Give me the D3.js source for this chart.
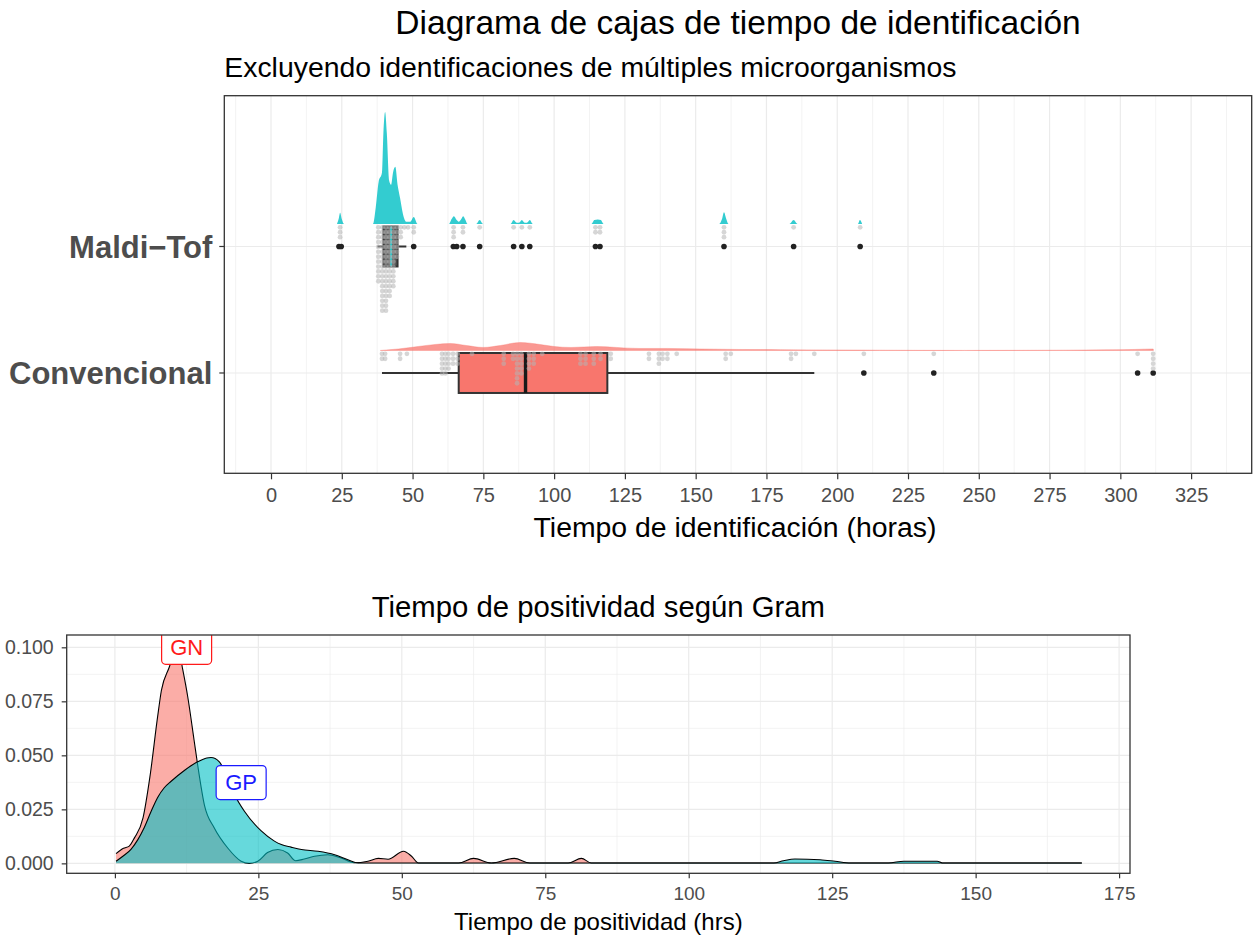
<!DOCTYPE html>
<html>
<head>
<meta charset="utf-8">
<script src="https://cdnjs.cloudflare.com/ajax/libs/d3/7.8.5/d3.min.js"></script>
<style>
  body { margin: 0; background: #fff; }
  svg { display: block; font-family: 'Liberation Sans', Arial, sans-serif; }
</style>
</head>
<body>
<svg id="chart" width="1255" height="938"></svg>
<script>
// ---- top chart data (hours) ----
var categories = ['Convencional', 'Maldi\u2212Tof'];
var xTicksTop = [0, 25, 50, 75, 100, 125, 150, 175, 200, 225, 250, 275, 300, 325];

// box stats: [whiskerLow, q1, median, q3, whiskerHigh]
var maldiBox = [37.6, 39.7, 42.4, 44.7, 47.8];
var convBox = [39.2, 66.3, 89.9, 118.8, 191.9];

var maldiOutliers = [24.0, 24.8, 50.4, 64.4, 65.6, 67.8, 73.7, 85.7, 88.6, 91.4, 114.6, 116.2, 160.0, 184.6, 208.1];
var convOutliers = [209.4, 234.1, 306.1, 311.6];

// dot columns: value, count
var maldiDots = [[24.4, 3], [37.9, 12], [39.3, 18], [40.6, 18], [41.9, 15], [43.2, 13], [44.5, 7],
  [45.8, 3], [47.1, 1], [48.4, 1], [50.4, 2], [64.5, 3], [67.8, 2], [73.7, 1], [85.7, 1], [88.6, 1],
  [91.4, 1], [114.6, 2], [116.2, 2], [160.0, 3], [184.6, 1], [208.1, 1]];
var convDots = [[39.2, 2], [40.3, 2], [45.6, 2], [48.0, 1], [60.4, 5], [61.6, 5], [62.7, 4], [64.3, 3],
  [65.9, 3], [71.0, 1], [82.2, 3], [85.5, 2], [86.9, 7], [88.4, 5], [91.1, 4], [92.8, 3], [95.8, 1],
  [109.3, 3], [111.1, 3], [114.0, 3], [116.4, 2], [120.0, 2], [133.5, 2], [137.0, 3], [138.3, 2],
  [140.0, 2], [143.3, 1], [160.6, 2], [162.4, 1], [183.7, 2], [185.4, 1], [191.9, 1], [209.4, 1],
  [234.1, 1], [306.1, 1], [311.6, 4]];

// half-eye density: value, density
var maldiDens = [[23.3, 0], [24.0, 0.011], [24.4, 0.020], [25.0, 0.009], [25.8, 0],
  [36.0, 0], [37.0, 0.03], [38.0, 0.075], [39.2, 0.092], [39.7, 0.163], [40.3, 0.200], [40.9, 0.163],
  [41.7, 0.078], [42.4, 0.07], [43.1, 0.092], [43.9, 0.102], [44.7, 0.07], [45.6, 0.046],
  [46.6, 0.018], [47.8, 0.004], [49.2, 0.004], [50.4, 0.0125], [51.8, 0],
  [62.8, 0], [63.8, 0.009], [64.6, 0.014], [65.6, 0.007], [66.3, 0.004], [67.2, 0.009], [67.9, 0.014],
  [68.7, 0.007], [69.4, 0], [72.5, 0], [73.7, 0.007], [74.9, 0],
  [84.6, 0], [85.7, 0.007], [86.8, 0.002], [87.6, 0.002], [88.6, 0.007], [89.6, 0.002], [90.4, 0.002],
  [91.4, 0.007], [92.5, 0], [113.2, 0], [114.2, 0.007], [115.4, 0.008], [116.5, 0.007], [117.5, 0],
  [158.3, 0], [159.3, 0.009], [160.0, 0.021], [160.8, 0.009], [161.6, 0],
  [183.1, 0], [184.6, 0.007], [186.0, 0], [207.3, 0], [208.0, 0.007], [208.8, 0]];
var convDens = [[38.6, 0], [45, 0.0027], [52, 0.0071], [58, 0.0107], [63.3, 0.0125], [69, 0.0089],
  [75, 0.0054], [81, 0.0089], [88, 0.0143], [95, 0.0107], [100, 0.0071], [106, 0.0054], [115, 0.0071],
  [122, 0.0054], [130, 0.0036], [140, 0.0036], [152, 0.0027], [165, 0.0018], [180, 0.0014],
  [200, 0.0009], [215, 0.0005], [230, 0.0002], [245, 0.0001], [260, 0.0002], [280, 0.0005],
  [295, 0.0011], [305, 0.0018], [311.6, 0.0027], [311.7, 0]];

// ---- bottom chart data ----
var xTicksBot = [0, 25, 50, 75, 100, 125, 150, 175];
var yTicksBot = [0, 0.025, 0.05, 0.075, 0.1];
var gnDens = [[0.2, 0.0045], [1.5, 0.007], [2.5, 0.008], [3.4, 0.0118], [4.9, 0.021], [6.1, 0.040],
  [7.45, 0.068], [8.1, 0.080], [9.5, 0.091], [10.5, 0.099], [11.0, 0.1003], [11.8, 0.090], [12.7, 0.077],
  [13.8, 0.057], [14.4, 0.046], [15.6, 0.027], [17.3, 0.0165], [19.7, 0.007], [22.0, 0.001],
  [23.4, 0.0], [24.9, 0.001], [26.6, 0.005], [28.4, 0.0064], [30.1, 0.0048], [31.5, 0.0012],
  [33.0, 0.002], [34.8, 0.0033], [37.1, 0.004], [39.4, 0.0025], [41.7, 0.0003], [44.1, 0.001],
  [45.9, 0.0023], [47.6, 0.0019], [50.3, 0.0056], [51.7, 0.0033], [52.9, 0.0002], [59.9, 0.0002],
  [62.5, 0.0023], [65.6, 0.0002], [69.6, 0.0023], [72.3, 0.0002], [79.0, 0.0002], [81.3, 0.0023],
  [83.0, 0.0002], [168.5, 0.0002]];
var gpDens = [[0.2, 0.001], [1.5, 0.0035], [2.8, 0.0065], [4.0, 0.011], [5.1, 0.0165], [6.3, 0.024],
  [7.45, 0.0305], [8.6, 0.035], [9.8, 0.038], [12.1, 0.043], [14.4, 0.047], [16.0, 0.0488],
  [16.75, 0.049], [18.2, 0.047], [19.5, 0.040], [20.8, 0.032], [22.6, 0.024], [25.5, 0.015],
  [27.8, 0.0103], [29.0, 0.0087], [30.7, 0.0075], [32.5, 0.0064], [35.4, 0.0056], [38.3, 0.004],
  [40.6, 0.0017], [42.4, 0.0002], [114.8, 0.0002], [116.5, 0.0012], [118.5, 0.002], [122.9, 0.0017],
  [125.5, 0.001], [128.2, 0.0002], [134.8, 0.0002], [137.5, 0.001], [143.3, 0.001], [144.2, 0.0002],
  [168.5, 0.0002]];
var gramLabels = [{ name: 'GN', t: 12.5, d: 0.1, color: '#ff1a1a' }, { name: 'GP', t: 22.0, d: 0.0374, color: '#1a1aff' }];

var svg = d3.select('#chart');
var GRID = '#ebebeb';
var TEXT_GREY = '#4d4d4d';

function drawTopPanel() {
  var left = 224.3, right = 1251.7, top = 95.7, bottom = 473.3;
  var x = d3.scaleLinear().domain([-16.5, 346.4]).range([left, right]);
  var y = d3.scaleLinear().domain([0.207, 3.192]).range([bottom, top]);
  var slabH = d3.scaleLinear().domain([0, 0.2]).range([0, 112]);
  var slabOffset = 0.178, boxHalf = 0.158;
  var dotR = 2.4, dotPitch = 4.9;

  svg.append('clipPath').attr('id', 'clipTop').append('rect')
    .attr('x', left).attr('y', top).attr('width', right - left).attr('height', bottom - top);

  var g = svg.append('g');
  var panel = g.append('g').attr('clip-path', 'url(#clipTop)');

  var minor = d3.range(-12.5, 346, 25);
  panel.selectAll('line.minor').data(minor).enter().append('line')
    .attr('x1', x).attr('x2', x).attr('y1', top).attr('y2', bottom)
    .attr('stroke', GRID).attr('stroke-width', 0.6);
  panel.selectAll('line.major').data(xTicksTop).enter().append('line')
    .attr('x1', x).attr('x2', x).attr('y1', top).attr('y2', bottom)
    .attr('stroke', GRID).attr('stroke-width', 1.2);
  panel.selectAll('line.hmajor').data(categories).enter().append('line')
    .attr('x1', left).attr('x2', right)
    .attr('y1', function(d, i) { return y(i + 1); }).attr('y2', function(d, i) { return y(i + 1); })
    .attr('stroke', GRID).attr('stroke-width', 1.2);

  var groups = [
    { idx: 2, dens: maldiDens, box: maldiBox, out: maldiOutliers, dots: maldiDots,
      slab: '#00BFC4', edge: 0, boxFill: '#5a5a5a', median: '#1fc6c9' },
    { idx: 1, dens: convDens, box: convBox, out: convOutliers, dots: convDots,
      slab: '#F8766D', edge: 0.45, boxFill: '#F8766D', median: '#1a1a1a' }
  ];

  groups.forEach(function(grp) {
    var base = y(grp.idx + slabOffset);
    var area = d3.area()
      .x(function(d) { return x(d[0]); })
      .y0(base)
      .y1(function(d) { return base - slabH(d[1]); })
      .curve(d3.curveMonotoneX);
    panel.append('path').datum(grp.dens)
      .attr('d', area)
      .attr('fill', grp.slab).attr('fill-opacity', grp.idx === 2 ? 0.8 : 0.75)
      .attr('stroke', grp.slab).attr('stroke-opacity', grp.edge).attr('stroke-width', 0.8);

    var cy = y(grp.idx);
    var b = grp.box;
    var boxTop = y(grp.idx + boxHalf), boxBot = y(grp.idx - boxHalf);
    panel.append('line').attr('x1', x(b[0])).attr('x2', x(b[1])).attr('y1', cy).attr('y2', cy)
      .attr('stroke', '#333').attr('stroke-width', 2);
    panel.append('line').attr('x1', x(b[3])).attr('x2', x(b[4])).attr('y1', cy).attr('y2', cy)
      .attr('stroke', '#333').attr('stroke-width', 2);
    panel.append('rect')
      .attr('x', x(b[1])).attr('width', x(b[3]) - x(b[1]))
      .attr('y', boxTop).attr('height', boxBot - boxTop)
      .attr('fill', grp.boxFill).attr('stroke', '#333').attr('stroke-width', 2);
    panel.append('line').attr('x1', x(b[2])).attr('x2', x(b[2]))
      .attr('y1', boxTop).attr('y2', boxBot)
      .attr('stroke', grp.median).attr('stroke-width', grp.idx === 2 ? 2 : 3.4);

    panel.selectAll(null).data(grp.out).enter().append('circle')
      .attr('cx', x).attr('cy', cy).attr('r', 2.8).attr('fill', '#222');

    var flat = [];
    grp.dots.forEach(function(col) {
      d3.range(col[1]).forEach(function(k) { flat.push([col[0], k]); });
    });
    panel.selectAll(null).data(flat).enter().append('circle')
      .attr('cx', function(d) { return x(d[0]); })
      .attr('cy', function(d) { return base + dotR + 1 + d[1] * dotPitch; })
      .attr('r', dotR)
      .attr('fill', '#b4b4b4').attr('fill-opacity', 0.55);
  });

  // axes
  var xAxis = g.append('g').attr('transform', 'translate(0,' + bottom + ')')
    .call(d3.axisBottom(x).tickValues(xTicksTop).tickSize(6).tickPadding(9));
  xAxis.select('.domain').remove();
  xAxis.selectAll('line').attr('stroke', '#333').attr('stroke-width', 1.2);
  xAxis.selectAll('text').attr('fill', TEXT_GREY).attr('font-size', 20).attr('font-family', null);

  var yAxis = g.append('g').attr('transform', 'translate(' + left + ',0)');
  yAxis.selectAll('line').data(categories).enter().append('line')
    .attr('x1', -5).attr('x2', 0)
    .attr('y1', function(d, i) { return y(i + 1); }).attr('y2', function(d, i) { return y(i + 1); })
    .attr('stroke', '#333').attr('stroke-width', 1.2);
  yAxis.selectAll('text').data(categories).enter().append('text')
    .attr('x', -12).attr('y', function(d, i) { return y(i + 1); })
    .attr('dy', '0.36em').attr('text-anchor', 'end')
    .attr('font-size', 31).attr('font-weight', 'bold').attr('fill', TEXT_GREY)
    .text(function(d) { return d; });

  g.append('rect').attr('x', left).attr('y', top).attr('width', right - left).attr('height', bottom - top)
    .attr('fill', 'none').attr('stroke', '#333').attr('stroke-width', 1.3);

  g.append('text').attr('x', (left + right) / 2).attr('y', 34).attr('text-anchor', 'middle')
    .attr('font-size', 33.5).attr('fill', '#000')
    .text('Diagrama de cajas de tiempo de identificación');
  g.append('text').attr('x', left).attr('y', 77)
    .attr('font-size', 28.4).attr('fill', '#000')
    .text('Excluyendo identificaciones de múltiples microorganismos');
  g.append('text').attr('x', (left + right) / 2 - 3).attr('y', 537).attr('text-anchor', 'middle')
    .attr('font-size', 28.4).attr('fill', '#000')
    .text('Tiempo de identificación (horas)');
}

function drawBottomPanel() {
  var left = 66.7, right = 1130, top = 635, bottom = 873.3;
  var x = d3.scaleLinear().domain([-8.4, 176.9]).range([left, right]);
  var y = d3.scaleLinear().domain([-0.0046, 0.1057]).range([bottom, top]);

  svg.append('clipPath').attr('id', 'clipBot').append('rect')
    .attr('x', left).attr('y', top).attr('width', right - left).attr('height', bottom - top);

  var g = svg.append('g');
  var panel = g.append('g').attr('clip-path', 'url(#clipBot)');

  var xMinor = d3.range(12.5, 176, 25);
  var yMinor = d3.range(0.0125, 0.1, 0.025);
  panel.selectAll(null).data(xMinor).enter().append('line')
    .attr('x1', x).attr('x2', x).attr('y1', top).attr('y2', bottom)
    .attr('stroke', GRID).attr('stroke-width', 0.6);
  panel.selectAll(null).data(yMinor).enter().append('line')
    .attr('y1', y).attr('y2', y).attr('x1', left).attr('x2', right)
    .attr('stroke', GRID).attr('stroke-width', 0.6);
  panel.selectAll(null).data(xTicksBot).enter().append('line')
    .attr('x1', x).attr('x2', x).attr('y1', top).attr('y2', bottom)
    .attr('stroke', GRID).attr('stroke-width', 1.2);
  panel.selectAll(null).data(yTicksBot).enter().append('line')
    .attr('y1', y).attr('y2', y).attr('x1', left).attr('x2', right)
    .attr('stroke', GRID).attr('stroke-width', 1.2);

  var area = d3.area()
    .x(function(d) { return x(d[0]); })
    .y0(y(0))
    .y1(function(d) { return y(d[1]); })
    .curve(d3.curveMonotoneX);
  var line = d3.line()
    .x(function(d) { return x(d[0]); })
    .y(function(d) { return y(d[1]); })
    .curve(d3.curveMonotoneX);

  [[gnDens, '#F8766D'], [gpDens, '#00BFC4']].forEach(function(s) {
    panel.append('path').datum(s[0]).attr('d', area)
      .attr('fill', s[1]).attr('fill-opacity', 0.6);
    panel.append('path').datum(s[0]).attr('d', line)
      .attr('fill', 'none').attr('stroke', '#000').attr('stroke-width', 1.1);
  });

  var labels = panel.selectAll('g.lab').data(gramLabels).enter().append('g')
    .attr('transform', function(d) { return 'translate(' + x(d.t) + ',' + y(d.d) + ')'; });
  labels.append('rect')
    .attr('x', -25).attr('y', -17).attr('width', 50).attr('height', 34).attr('rx', 4)
    .attr('fill', '#fff').attr('stroke', function(d) { return d.color; }).attr('stroke-width', 1.2);
  labels.append('text')
    .attr('text-anchor', 'middle').attr('dy', '0.36em')
    .attr('font-size', 22).attr('fill', function(d) { return d.color; })
    .text(function(d) { return d.name; });

  var xAxis = g.append('g').attr('transform', 'translate(0,' + bottom + ')')
    .call(d3.axisBottom(x).tickValues(xTicksBot).tickSize(5).tickPadding(8));
  xAxis.select('.domain').remove();
  xAxis.selectAll('line').attr('stroke', '#333').attr('stroke-width', 1.2);
  xAxis.selectAll('text').attr('fill', TEXT_GREY).attr('font-size', 19).attr('font-family', null);

  var yAxis = g.append('g').attr('transform', 'translate(' + left + ',0)')
    .call(d3.axisLeft(y).tickValues(yTicksBot).tickFormat(d3.format('.3f')).tickSize(5).tickPadding(8));
  yAxis.select('.domain').remove();
  yAxis.selectAll('line').attr('stroke', '#333').attr('stroke-width', 1.2);
  yAxis.selectAll('text').attr('fill', TEXT_GREY).attr('font-size', 19.5).attr('font-family', null);

  g.append('rect').attr('x', left).attr('y', top).attr('width', right - left).attr('height', bottom - top)
    .attr('fill', 'none').attr('stroke', '#333').attr('stroke-width', 1.3);

  g.append('text').attr('x', (left + right) / 2).attr('y', 617).attr('text-anchor', 'middle')
    .attr('font-size', 29.3).attr('fill', '#000')
    .text('Tiempo de positividad según Gram');
  g.append('text').attr('x', (left + right) / 2).attr('y', 930).attr('text-anchor', 'middle')
    .attr('font-size', 24).attr('fill', '#000')
    .text('Tiempo de positividad (hrs)');
}

drawTopPanel();
drawBottomPanel();
</script>
</body>
</html>
